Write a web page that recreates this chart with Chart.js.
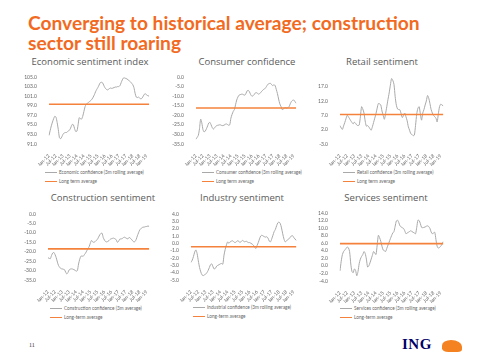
<!DOCTYPE html>
<html><head><meta charset="utf-8">
<script src="https://cdn.jsdelivr.net/npm/chart.js@4"></script>
<style>
body{margin:0;width:480px;height:360px;background:#fff;position:relative;overflow:hidden;font-family:Lato,"Open Sans",sans-serif;}
#title{position:absolute;left:28px;top:13px;color:#F26A21;font-weight:700;font-size:19.2px;line-height:19.5px;white-space:nowrap;}
.pt{position:absolute;color:#5a5a5a;font-size:9.5px;white-space:nowrap;transform:translateX(-50%);line-height:12px;font-family:"Open Sans",sans-serif;font-weight:400;}
.lg{position:absolute;font-size:4.7px;color:#666;white-space:nowrap;line-height:6px;}
.lg i{display:inline-block;width:12px;height:0;vertical-align:middle;margin-right:2px;}
canvas{position:absolute;}
#pg{position:absolute;left:29px;top:342px;font-size:6px;color:#333;font-family:"Liberation Serif",serif;}
#ing{position:absolute;left:402px;top:336px;font-size:15px;font-weight:700;color:#000066;font-family:"Liberation Serif",serif;letter-spacing:0.5px;}
#lion{position:absolute;left:442px;top:340px;width:20px;height:12px;background:#F58220;border-radius:50% 60% 25% 35%;}
</style></head>
<body>
<div id="title">Converging to historical average; construction<br>sector still roaring</div>
<div id="pg">11</div>
<div id="ing">ING</div><div id="lion"></div>
<script>
const monthNames = ['Jan','Feb','Mar','Apr','May','Jun','Jul','Aug','Sep','Oct','Nov','Dec'];
const years = ['12','13','14','15','16','17','18','19'];
const nMonths = 87; // Jan-12 .. Mar-19
const tickLabels = ['Jan-12','Jul-12','Jan-13','Jul-13','Jan-14','Jul-14','Jan-15','Jul-15','Jan-16','Jul-16','Jan-17','Jul-17','Jan-18','Jul-18','Jan-19'];
const categories = [];
for (const y of years) for (const m of monthNames) if (categories.length < nMonths) categories.push(m + '-' + y);

const economic = [92.8,93.8,94.8,95.6,96.3,96.8,96.6,95.5,94.0,92.3,92.1,92.5,
 93.0,93.3,93.4,93.4,93.6,93.8,94.0,94.6,95.1,95.0,94.2,93.6,
 93.7,95.0,96.5,96.3,96.2,96.8,97.8,98.8,99.3,99.5,99.7,99.9,
 100.1,100.4,100.8,101.3,101.9,102.4,102.8,103.3,103.8,103.9,103.8,103.3,
 102.8,102.5,102.3,102.4,102.6,102.7,102.6,102.7,102.8,102.9,102.9,103.0,
 103.0,103.2,103.8,104.4,104.8,104.8,104.7,104.6,104.4,104.2,104.0,103.7,
 103.4,102.8,101.6,100.8,100.7,100.8,100.6,100.4,100.6,101.0,101.4,101.5,
 101.2,101.1,101.0];
const consumer = [-32.5,-31.5,-30.5,-27,-22,-24,-27.5,-28.7,-28.2,-27,-25.5,-24,
 -23.7,-25,-26.5,-27.2,-26.5,-25.8,-25.3,-25.2,-25.0,-25.0,-25.3,-25.4,
 -25.2,-24.8,-24.5,-24.8,-25.2,-25.0,-21.5,-19.5,-18,-17,-14.5,-12,
 -10.5,-9.5,-9.2,-9.0,-9.0,-9.3,-9.5,-8.5,-7.2,-7.0,-7.8,-9.2,
 -10,-9.8,-9.2,-8.3,-8.2,-8.6,-9.0,-8.5,-7.8,-7.2,-6.5,-6.2,
 -5.5,-4.5,-3.7,-3.4,-3.3,-4.0,-4.5,-4.0,-4.5,-6.5,-8.7,-11.5,
 -14,-15.3,-17,-16.8,-16.2,-16,-16.2,-16.0,-15.5,-14,-12.8,-12.2,
 -12,-12.8,-13.7];
const retail = [3.4,2.6,2.1,3.3,4.5,5.8,7.0,6.5,5.8,5.1,4.5,4.0,
 4.6,4.2,3.6,3.4,3.6,6.5,10.0,9.2,7.8,5.0,3.2,3.4,
 3.0,2.3,1.8,3.0,4.5,6.0,7.6,9.5,11.1,11.0,10.6,8.5,
 7.0,5.6,7.6,10.0,12.5,14.8,17.5,19.8,19.2,17.8,13.5,10.5,
 9.2,9.0,8.9,7.5,6.2,7.0,7.8,6.5,5.1,3.0,1.8,0.6,
 0.3,-0.1,0.1,3.5,7.5,9.5,10.0,7.5,5.3,7.8,9.0,10.6,
 12.0,13.9,13.0,11.1,9.0,7.8,7.0,6.5,6.0,4.7,7.5,10.0,
 10.9,10.6,10.3];
const construction = [-23.2,-23.5,-23.7,-22.0,-20.7,-20.4,-21.5,-23.2,-25.5,-27.4,-28.3,-29.0,
 -29.1,-29.3,-29.5,-30.8,-31.8,-31.0,-29.6,-29.2,-29.1,-29.2,-29.5,-29.8,
 -30.3,-30.0,-26.5,-24.0,-22.4,-22.3,-22.4,-21.5,-20.7,-19.5,-18.3,-17.3,
 -15.5,-14.0,-14.8,-15.0,-14.7,-14.0,-13.5,-12.3,-11.1,-10.3,-10.2,-12.5,
 -13.8,-14.6,-14.8,-14.5,-14.0,-13.4,-13.1,-12.9,-12.8,-13.2,-13.6,-15.0,
 -14.5,-13.4,-13.2,-13.1,-12.6,-12.3,-12.6,-13.0,-13.2,-12.4,-12.8,-13.4,
 -14.2,-14.8,-14.6,-13.5,-11.6,-10.0,-8.5,-7.8,-7.2,-7.0,-6.9,-6.7,
 -6.6,-6.4,-6.5];
const industry = [-2.6,-2.3,-1.8,-1.2,-0.9,-1.4,-2.4,-3.3,-3.9,-4.3,-4.4,-4.3,
 -4.2,-4.0,-3.7,-3.3,-2.9,-2.8,-3.2,-3.5,-3.4,-3.1,-3.0,-2.9,
 -2.8,-2.75,-2.85,-1.6,-0.8,-0.2,0.2,0.0,0.2,0.3,0.35,0.2,
 0.1,0.2,0.35,0.3,0.1,0.25,0.4,0.3,0.2,0.3,0.2,0.1,
 0.1,0.0,-0.1,-0.25,-0.5,-0.7,-0.3,0.1,0.6,1.0,1.1,1.0,
 0.9,0.85,0.9,0.7,0.3,0.2,0.6,1.1,1.6,1.9,2.4,2.8,
 2.9,2.7,2.1,1.3,0.6,0.2,0.3,0.5,0.6,0.8,1.0,1.05,
 0.8,0.6,0.4];
const services = [-1.3,1.2,3.0,3.8,4.2,4.6,5.0,4.8,3.8,0.5,-1.5,-1.8,
 -0.8,-1.2,-2.6,-1.5,0.6,1.8,2.5,3.0,3.8,3.3,1.8,-0.3,
 0.0,0.8,1.8,2.8,3.8,3.4,3.0,5.5,8.1,7.5,6.5,5.2,
 4.2,4.0,3.8,4.6,5.5,6.3,7.2,8.0,8.7,9.1,10.5,11.9,
 12.1,11.5,10.6,10.3,10.1,9.9,9.3,8.5,8.7,8.9,9.1,9.3,
 9.1,8.9,8.7,8.5,10.2,12.1,12.0,11.2,10.2,10.1,10.2,10.3,
 10.5,10.6,10.4,9.9,9.0,8.5,8.7,8.9,7.0,5.2,4.7,4.9,
 5.2,5.7,6.4];

const panelTitles = ['Economic sentiment index','Consumer confidence','Retail sentiment','Construction sentiment','Industry sentiment','Services sentiment'];
const seriesLabels = ['Economic confidence (3m rolling average)','Consumer confidence (3m rolling average)','Retail confidence (3m rolling average)','Construction confidence (3m average)','Industrial confidence (3m rolling average)','Services confidence (3m rolling average)'];
const avgLabels = ['Long term average','Long term average','Long term average','Long-term average','Long-term average','Long-term average'];
const seriesValues = [economic, consumer, retail, construction, industry, services];
const longTermAvg = [99.3, -16.2, 7.3, -18.5, -0.46, 5.9];
const yTicks = [
 [91,93,95,97,99,101,103,105],
 [-35,-30,-25,-20,-15,-10,-5,0],
 [-3,2,7,12,17],
 [-35,-30,-25,-20,-15,-10,-5,0],
 [-5,-4,-3,-2,-1,0,1,2,3,4],
 [-4,-2,0,2,4,6,8,10,12,14]
];
const yRange = [[91,105],[-35,0],[-3,20],[-35,0],[-5,4],[-4,14]];

// layout geometry (plot area) — positions only
const geo = [
 {l:49,r:151,t:74,b:144, tx:90,ty:56, lx:45,ly:172},
 {l:196,r:298,t:74,b:144, tx:247,ty:56, lx:202,ly:172},
 {l:340,r:445,t:75,b:144, tx:382,ty:56, lx:343,ly:172},
 {l:48,r:151,t:211,b:280, tx:103,ty:192, lx:50,ly:308},
 {l:191,r:298,t:211,b:280, tx:242,ty:192, lx:193,ly:307},
 {l:340,r:445,t:210,b:281, tx:386,ty:192, lx:340,ly:308}
];
const GREY = '#a9a9a9', ORANGE = '#F5823C', FONT = 'Lato, "Open Sans", sans-serif';
const YW = 29, XH = 22, PT = 4;

geo.forEach((g, k) => {
  const t = document.createElement('div');
  t.className = 'pt'; t.style.left = g.tx + 'px'; t.style.top = g.ty + 'px';
  t.textContent = panelTitles[k];
  document.body.appendChild(t);

  const l1 = document.createElement('div');
  l1.className = 'lg'; l1.style.left = g.lx + 'px'; l1.style.top = (g.ly - 3) + 'px';
  l1.innerHTML = '<i style="border-top:1px solid ' + GREY + '"></i>';
  l1.appendChild(document.createTextNode(seriesLabels[k]));
  document.body.appendChild(l1);
  const l2 = document.createElement('div');
  l2.className = 'lg'; l2.style.left = g.lx + 'px'; l2.style.top = (g.ly + 6) + 'px';
  l2.innerHTML = '<i style="border-top:1.5px solid ' + ORANGE + '"></i>';
  l2.appendChild(document.createTextNode(avgLabels[k]));
  document.body.appendChild(l2);

  const c = document.createElement('canvas');
  const left = g.l - YW, top = g.t - PT;
  const w = g.r - left + 1, h = (g.b - g.t) + PT + XH;
  c.width = w; c.height = h;
  c.style.left = left + 'px'; c.style.top = top + 'px';
  c.style.width = w + 'px'; c.style.height = h + 'px';
  document.body.appendChild(c);

  new Chart(c, {
    type: 'line',
    data: {
      labels: categories,
      datasets: [
        {label: avgLabels[k], data: [{x: categories[0], y: longTermAvg[k]}, {x: categories[categories.length-1], y: longTermAvg[k]}],
         borderColor: ORANGE, borderWidth: 1.6, pointRadius: 0, fill: false},
        {label: seriesLabels[k], data: seriesValues[k], borderColor: GREY, borderWidth: 1, pointRadius: 0, tension: 0.25, fill: false}
      ]
    },
    options: {
      responsive: false, animation: false, events: [],
      layout: {padding: {top: PT, right: 1, left: 0, bottom: 0}},
      plugins: {legend: {display: false}, title: {display: false}, tooltip: {enabled: false}},
      scales: {
        x: {
          grid: {display: false}, border: {display: false},
          ticks: {autoSkip: false, maxRotation: 45, minRotation: 45, padding: 1, color: '#666',
                  font: {size: 5, family: FONT},
                  callback: (v, i) => tickLabels.includes(categories[i]) ? categories[i] : null},
          afterFit: s => { s.height = XH; }
        },
        y: {
          min: yRange[k][0], max: yRange[k][1],
          grid: {display: false}, border: {display: false},
          ticks: {autoSkip: false, padding: 4, color: '#666', font: {size: 5, family: FONT}, callback: v => Number(v).toFixed(1)},
          afterBuildTicks: s => { s.ticks = yTicks[k].map(v => ({value: v})); },
          afterFit: s => { s.width = YW; }
        }
      }
    }
  });
});
</script>
</body></html>
